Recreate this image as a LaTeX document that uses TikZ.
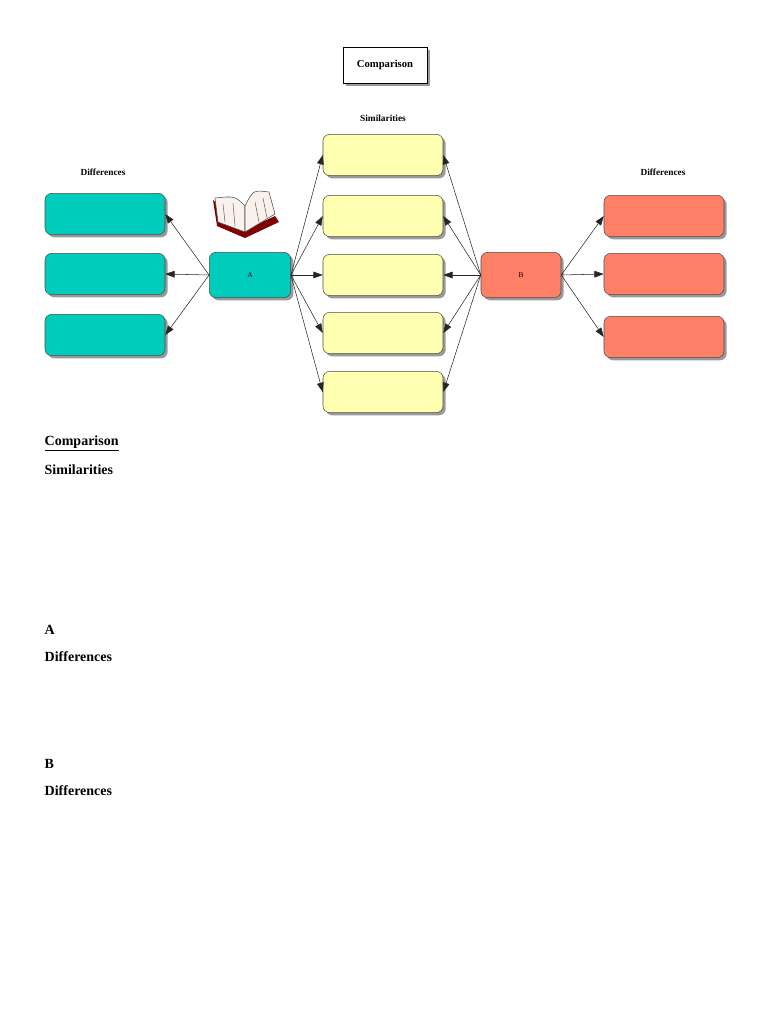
\documentclass[tikz,border=0pt]{standalone}
\usepackage{fontspec}
\setmainfont{Liberation Serif}
\usetikzlibrary{shadows,arrows.meta}
\definecolor{tealc}{HTML}{00CCBB}
\definecolor{salmon}{HTML}{FF8066}
\definecolor{pale}{HTML}{FFFFB0}
\begin{document}
\begin{tikzpicture}[x=0.75pt,y=-0.75pt,
 box/.style={draw=black!70,rounded corners=5pt,minimum width=90pt,minimum height=31pt,drop shadow={shadow xshift=2pt,shadow yshift=-2pt,fill=black!40,opacity=1}},
 teal/.style={box,fill=tealc},
 sim/.style={box,fill=pale},
 red/.style={box,fill=salmon},
 arr/.style={-{Triangle[length=7pt,width=5pt]},black!85,thin},
 lbl/.style={font=\bfseries\fontsize{7}{8}\selectfont},
 txt/.style={anchor=west,font=\bfseries\fontsize{10.5}{12}\selectfont}]
\useasboundingbox (0,0) rectangle (768,1024);
\node[draw,fill=white,minimum width=63pt,minimum height=27pt,font=\bfseries\fontsize{8}{9}\selectfont,drop shadow={shadow xshift=2pt,shadow yshift=-2pt,fill=black!40,opacity=1}] (cmp) at (385,65) {Comparison};
\node[lbl] (sl) at (383,118) {Similarities};
\node[lbl] (dl) at (103,172) {Differences};
\node[lbl] (dr) at (663,172) {Differences};
\foreach \i/\y in {1/155,2/216,3/275,4/333,5/392}{\node[sim] (s\i) at (383,\y) {};}
\foreach \i/\y in {1/214,2/274,3/335}{\node[teal] (l\i) at (105,\y) {};}
\foreach \i/\y in {1/216,2/274,3/337}{\node[red] (r\i) at (664,\y) {};}
\node[teal,minimum width=61pt,minimum height=34pt,font=\fontsize{5.5}{6}\selectfont] (A) at (250,275) {A};
\node[red,minimum width=60pt,minimum height=34pt,font=\fontsize{5.5}{6}\selectfont] (B) at (521,275) {B};
\foreach \i in {1,2,3}{\draw[arr] (A.west) -- (l\i.east); \draw[arr] (B.east) -- (r\i.west);}
\foreach \i in {1,...,5}{\draw[arr] (A.east) -- (s\i.west); \draw[arr] (B.west) -- (s\i.east);}
% book
\begin{scope}[shift={(245,208)}]
\fill[red!50!black] (-32,-8) -- (-28,18) -- (0,30) -- (34,14) -- (30,8) -- (0,22) -- cycle;
\fill[white!90!brown,draw=black!70,thin] (-30,-10) -- (-27,14) -- (0,24) -- (0,-2) .. controls (-10,-12) .. (-30,-10);
\fill[white!90!brown,draw=black!70,thin] (0,-2) .. controls (8,-18) .. (24,-16) -- (30,6) -- (0,24) -- cycle;
\draw[black!60,thin] (-22,-4) -- (-20,14) (-12,-5) -- (-10,18) (10,-6) -- (14,14) (18,-10) -- (22,10);
\node (book) at (0,0) {};
\end{scope}
\node[txt] (t1) at (40,443) {\underline{Comparison}};
\node[txt] (t2) at (40,470) {Similarities};
\node[txt] (t3) at (40,630) {A};
\node[txt] (t4) at (40,657) {Differences};
\node[txt] (t5) at (40,764) {B};
\node[txt] (t6) at (40,791) {Differences};
\end{tikzpicture}
\end{document}
